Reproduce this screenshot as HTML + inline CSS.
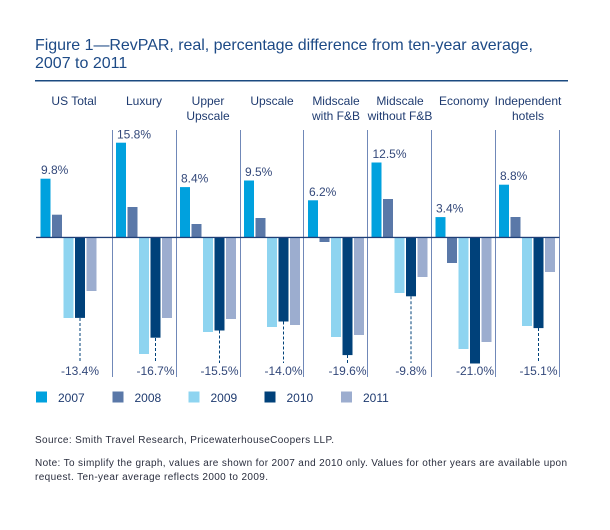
<!DOCTYPE html>
<html><head><meta charset="utf-8"><style>
html,body{margin:0;padding:0;background:#fff;}
svg{display:block;}
text{font-family:"Liberation Sans",Arial,sans-serif;}
</style></head><body>
<svg width="610" height="530" viewBox="0 0 610 530" xmlns="http://www.w3.org/2000/svg">
<rect width="610" height="530" fill="#fff"/>
<!-- Title -->
<text x="35" y="50" font-size="16" fill="#1d4a86" textLength="498" lengthAdjust="spacing">Figure 1—RevPAR, real, percentage difference from ten-year average,</text>
<text x="35" y="68" font-size="16" fill="#1d4a86">2007 to 2011</text>
<rect x="35" y="80" width="533" height="1.5" fill="#1b4a80"/>

<!-- Category labels -->
<g font-size="12" fill="#1f3b70" text-anchor="middle">
<text x="74" y="105">US Total</text>
<text x="144" y="105">Luxury</text>
<text x="208" y="105">Upper</text><text x="208" y="120">Upscale</text>
<text x="272" y="105">Upscale</text>
<text x="336" y="105">Midscale</text><text x="336" y="120">with F&amp;B</text>
<text x="400" y="105">Midscale</text><text x="400" y="120">without F&amp;B</text>
<text x="464" y="105">Economy</text>
<text x="528" y="105">Independent</text><text x="528" y="120">hotels</text>
</g>

<!-- Separators -->
<g stroke="#7088b8" stroke-width="1">
<line x1="112.5" y1="130" x2="112.5" y2="377"/>
<line x1="176.5" y1="130" x2="176.5" y2="377"/>
<line x1="240.5" y1="130" x2="240.5" y2="377"/>
<line x1="303.5" y1="130" x2="303.5" y2="377"/>
<line x1="367.5" y1="130" x2="367.5" y2="377"/>
<line x1="431.5" y1="130" x2="431.5" y2="377"/>
<line x1="495.5" y1="130" x2="495.5" y2="377"/>
<line x1="559.5" y1="130" x2="559.5" y2="377"/>
</g>

<g id="bars"></g>
<g id="labels"></g>

<!-- US Total g=36.5 -->
<g>
<rect x="40.5" y="178.7" width="10" height="58.8" fill="#00a1de"/>
<rect x="52" y="214.7" width="10" height="22.8" fill="#5a78a8"/>
<rect x="63.5" y="237.5" width="10" height="80.5" fill="#8ed4f0"/>
<rect x="75" y="237.5" width="10" height="80.4" fill="#00417a"/>
<rect x="86.5" y="237.5" width="10" height="53.5" fill="#9cadcf"/>
</g>
<!-- Luxury g=112 -->
<g>
<rect x="116" y="142.7" width="10" height="94.8" fill="#00a1de"/>
<rect x="127.5" y="207" width="10" height="30.5" fill="#5a78a8"/>
<rect x="139" y="237.5" width="10" height="116.5" fill="#8ed4f0"/>
<rect x="150.5" y="237.5" width="10" height="100.2" fill="#00417a"/>
<rect x="162" y="237.5" width="10" height="80.5" fill="#9cadcf"/>
</g>
<!-- Upper Upscale g=176 -->
<g>
<rect x="180" y="187.1" width="10" height="50.4" fill="#00a1de"/>
<rect x="191.5" y="224" width="10" height="13.5" fill="#5a78a8"/>
<rect x="203" y="237.5" width="10" height="94.5" fill="#8ed4f0"/>
<rect x="214.5" y="237.5" width="10" height="93" fill="#00417a"/>
<rect x="226" y="237.5" width="10" height="81.5" fill="#9cadcf"/>
</g>
<!-- Upscale g=240 -->
<g>
<rect x="244" y="180.5" width="10" height="57" fill="#00a1de"/>
<rect x="255.5" y="218" width="10" height="19.5" fill="#5a78a8"/>
<rect x="267" y="237.5" width="10" height="89.5" fill="#8ed4f0"/>
<rect x="278.5" y="237.5" width="10" height="84" fill="#00417a"/>
<rect x="290" y="237.5" width="10" height="87.5" fill="#9cadcf"/>
</g>
<!-- Midscale with F&B g=304 -->
<g>
<rect x="308" y="200.3" width="10" height="37.2" fill="#00a1de"/>
<rect x="319.5" y="237.5" width="10" height="4.5" fill="#5a78a8"/>
<rect x="331" y="237.5" width="10" height="99.5" fill="#8ed4f0"/>
<rect x="342.5" y="237.5" width="10" height="117.6" fill="#00417a"/>
<rect x="354" y="237.5" width="10" height="97.5" fill="#9cadcf"/>
</g>
<!-- Midscale without F&B g=367.5 -->
<g>
<rect x="371.5" y="162.5" width="10" height="75" fill="#00a1de"/>
<rect x="383" y="199" width="10" height="38.5" fill="#5a78a8"/>
<rect x="394.5" y="237.5" width="10" height="55.5" fill="#8ed4f0"/>
<rect x="406" y="237.5" width="10" height="58.8" fill="#00417a"/>
<rect x="417.5" y="237.5" width="10" height="39.5" fill="#9cadcf"/>
</g>
<!-- Economy g=431.5 -->
<g>
<rect x="435.5" y="217.1" width="10" height="20.4" fill="#00a1de"/>
<rect x="447" y="237.5" width="10" height="25.5" fill="#5a78a8"/>
<rect x="458.5" y="237.5" width="10" height="111.5" fill="#8ed4f0"/>
<rect x="470" y="237.5" width="10" height="126" fill="#00417a"/>
<rect x="481.5" y="237.5" width="10" height="104.5" fill="#9cadcf"/>
</g>
<!-- Independent g=495 -->
<g>
<rect x="499" y="184.7" width="10" height="52.8" fill="#00a1de"/>
<rect x="510.5" y="217" width="10" height="20.5" fill="#5a78a8"/>
<rect x="522" y="237.5" width="10" height="88.5" fill="#8ed4f0"/>
<rect x="533.5" y="237.5" width="10" height="90.6" fill="#00417a"/>
<rect x="545" y="237.5" width="10" height="34.5" fill="#9cadcf"/>
</g>

<!-- Zero line -->
<rect x="36" y="236.8" width="523.5" height="1.3" fill="#1f3f77"/>

<!-- Dashed leaders -->
<g stroke="#00417a" stroke-width="1" stroke-dasharray="3,2">
<line x1="80" y1="318" x2="80" y2="363"/>
<line x1="155.5" y1="338" x2="155.5" y2="363"/>
<line x1="219.5" y1="330.5" x2="219.5" y2="363"/>
<line x1="283.5" y1="321.5" x2="283.5" y2="363"/>
<line x1="347.5" y1="355" x2="347.5" y2="363"/>
<line x1="411" y1="296.3" x2="411" y2="363"/>
<line x1="538.5" y1="328" x2="538.5" y2="363"/>
</g>

<!-- Positive labels -->
<g font-size="12" fill="#33487a">
<text x="41" y="174.2">9.8%</text>
<text x="117" y="138.5">15.8%</text>
<text x="181" y="182.6">8.4%</text>
<text x="245" y="176">9.5%</text>
<text x="309" y="195.8">6.2%</text>
<text x="372.5" y="158">12.5%</text>
<text x="436" y="212.6">3.4%</text>
<text x="500" y="180.2">8.8%</text>
</g>
<!-- Negative labels -->
<g font-size="12" fill="#33487a" text-anchor="middle">
<text x="80" y="375">-13.4%</text>
<text x="155.5" y="375">-16.7%</text>
<text x="219.5" y="375">-15.5%</text>
<text x="283.5" y="375">-14.0%</text>
<text x="347.5" y="375">-19.6%</text>
<text x="411" y="375">-9.8%</text>
<text x="475" y="375">-21.0%</text>
<text x="538.5" y="375">-15.1%</text>
</g>

<!-- Legend -->
<rect x="36" y="391.5" width="11" height="11" fill="#00a1de"/>
<rect x="112.5" y="391.5" width="11" height="11" fill="#5a78a8"/>
<rect x="188.5" y="391.5" width="11" height="11" fill="#8ed4f0"/>
<rect x="264.5" y="391.5" width="11" height="11" fill="#00417a"/>
<rect x="341" y="391.5" width="11" height="11" fill="#9cadcf"/>
<g font-size="12" fill="#1f3b70">
<text x="58" y="402">2007</text>
<text x="134.5" y="402">2008</text>
<text x="210.5" y="402">2009</text>
<text x="286.5" y="402">2010</text>
<text x="363" y="402">2011</text>
</g>

<!-- Source and note -->
<g font-size="10" fill="#2a2e3e">
<text x="35" y="443" textLength="299" lengthAdjust="spacing">Source: Smith Travel Research, PricewaterhouseCoopers LLP.</text>
<text x="35" y="466" textLength="532" lengthAdjust="spacing">Note: To simplify the graph, values are shown for 2007 and 2010 only. Values for other years are available upon</text>
<text x="35" y="480" textLength="233" lengthAdjust="spacing">request. Ten-year average reflects 2000 to 2009.</text>
</g>
</svg>
</body></html>
